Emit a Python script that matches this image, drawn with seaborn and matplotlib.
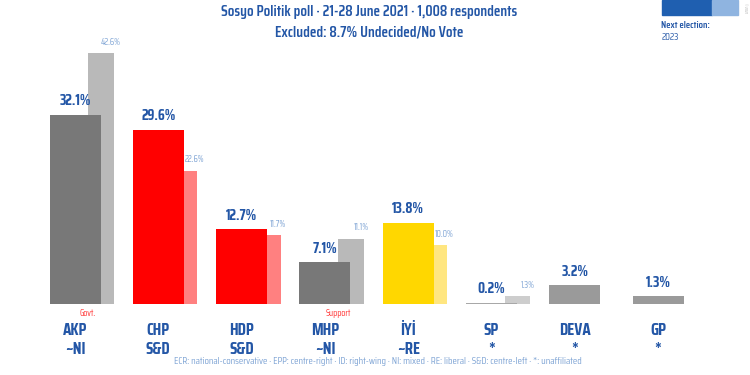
import matplotlib
matplotlib.use("Agg")
import matplotlib.pyplot as plt
import matplotlib.patches as mpatches
import seaborn as sns
import pandas as pd
import numpy as np

parties = ["AKP", "CHP", "HDP", "MHP", "İYİ", "SP", "DEVA", "GP"]
groups = ["~NI", "S&D", "S&D", "~NI", "~RE", "*", "*", "*"]
current = [32.1, 29.6, 12.7, 7.1, 13.8, 0.2, 3.2, 1.3]
previous = [42.6, 22.6, 11.7, 11.1, 10.0, 1.3, None, None]
main_colors = ["#787878", "#ff0000", "#ff0000", "#787878", "#ffd700", "#a8a8a8", "#9a9a9a", "#9a9a9a"]
prev_colors = ["#b9b9b9", "#ff8080", "#ff8080", "#b9b9b9", "#ffe680", "#cdcdcd", "#cccccc", "#cccccc"]
notes = {"AKP": "Govt.", "MHP": "Support"}

title1 = "Sosyo Politik poll · 21-28 June 2021 · 1,008 respondents"
title2 = "Excluded: 8.7% Undecided/No Vote"
footer = ("ECR: national-conservative · EPP: centre-right · ID: right-wing · NI: mixed · "
          "RE: liberal · S&D: centre-left · *: unaffiliated")

sns.set_theme(style="white")
FONT = ["Saira Condensed", "Saira Semi Condensed", "Roboto Condensed", "DejaVu Sans"]
plt.rcParams["font.family"] = FONT

BLUE = "#2356a6"
LBLUE = "#7da3d4"

fig = plt.figure(figsize=(7.5, 3.75), dpi=100)
ax = fig.add_axes([0, 71 / 375, 1, 264 / 375])
px_per_unit = 83.3
XLIM = (-75 / px_per_unit, (750 - 75) / px_per_unit)
YLIM = (0, 264 / 5.89)

pos = np.arange(len(parties))
off = 26 / px_per_unit
main_w = 51 / px_per_unit
prev_w = 26 / px_per_unit

prev_df = pd.DataFrame({"x": pos + off, "y": previous, "party": parties}).dropna()
main_df = pd.DataFrame({"x": pos.astype(float), "y": current, "party": parties})

sns.barplot(data=prev_df, x="x", y="y", hue="party", palette=dict(zip(parties, prev_colors)),
            native_scale=True, width=prev_w, dodge=False, legend=False, ax=ax,
            saturation=1, linewidth=0)
sns.barplot(data=main_df, x="x", y="y", hue="party", palette=dict(zip(parties, main_colors)),
            native_scale=True, width=main_w, dodge=False, legend=False, ax=ax,
            saturation=1, linewidth=0)
ax.set_xlim(*XLIM)
ax.set_ylim(*YLIM)
ax.axis("off")

for x, v in zip(pos, current):
    ax.text(x, v + 1.1, f"{v:.1f}%", ha="center", va="bottom", color=BLUE,
            fontsize=10.5, fontweight="bold")
for x, v in zip(pos, previous):
    if v is None:
        continue
    ax.text(x + off + 0.12, v + 1.1, f"{v:.1f}%", ha="center", va="bottom", color=LBLUE,
            fontsize=6.5, fontstyle="italic")

for i, (p, g) in enumerate(zip(parties, groups)):
    xf = 75 + px_per_unit * i
    fig.text(xf / 750, 1 - 330 / 375, p, ha="center", va="center", color=BLUE,
             fontsize=12, fontweight="bold")
    fig.text(xf / 750, 1 - 349 / 375, g, ha="center", va="center", color=BLUE,
             fontsize=12, fontweight="bold")
    if p in notes:
        fig.text((xf + 13) / 750, 1 - 313 / 375, notes[p], ha="center", va="center",
                 color="#ff3030", fontsize=6.5)

fig.text(369 / 750, 1 - 12 / 375, title1, ha="center", va="center", color=BLUE,
         fontsize=11, fontweight="semibold")
fig.text(369 / 750, 1 - 33 / 375, title2, ha="center", va="center", color=BLUE,
         fontsize=11, fontweight="semibold")
fig.text(378 / 750, 1 - 361 / 375, footer, ha="center", va="center", color=LBLUE,
         fontsize=7.2)

fig.patches.append(mpatches.Rectangle((662 / 750, 1 - 15 / 375), 50 / 750, 15 / 375,
                                      transform=fig.transFigure, color="#1f5fb0", zorder=0))
fig.patches.append(mpatches.Rectangle((712 / 750, 1 - 15 / 375), 26 / 750, 15 / 375,
                                      transform=fig.transFigure, color="#8fb4e0", zorder=0))
fig.text(661 / 750, 1 - 26 / 375, "Next election:", ha="left", va="center", color=BLUE,
         fontsize=7.2, fontweight="semibold")
fig.text(661 / 750, 1 - 38 / 375, "2023", ha="left", va="center", color=BLUE,
         fontsize=7)
fig.text(745 / 750, 1 - 8 / 375, "© 2021", ha="center", va="center", color="#aaaaaa",
         fontsize=3, rotation=270)

fig.savefig("out.png", dpi=100, facecolor="white")
